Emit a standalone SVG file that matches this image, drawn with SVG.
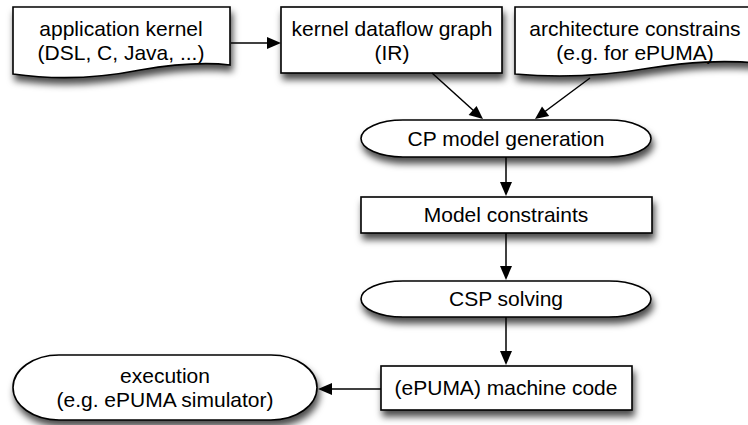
<svg xmlns="http://www.w3.org/2000/svg" width="748" height="425" viewBox="0 0 748 425">
<defs>
<filter id="sh" x="-20%" y="-30%" width="140%" height="180%">
<feDropShadow dx="2" dy="6" stdDeviation="3.5" flood-color="#000" flood-opacity="0.7"/>
</filter>
</defs>
<style>
.n{fill:#fff;stroke:#000;stroke-width:1.6;filter:url(#sh)}
.t{font-family:"Liberation Sans",Arial,Helvetica,sans-serif;font-size:21px;fill:#000;text-anchor:middle}
.c{fill:none;stroke:#000;stroke-width:1.5}
.h{fill:#000;stroke:none}
</style>
<g id="app-kernel">
<path class="n" d="M13,7 H230 V65 C205,62 175,64 140,70 C100,78 55,80 13,74 Z"/>
<text class="t" x="121" y="36">application kernel</text>
<text class="t" x="121" y="60">(DSL, C, Java, ...)</text>
</g>
<g id="dataflow-graph">
<rect class="n" x="281" y="7" width="221" height="66"/>
<text class="t" x="392" y="36">kernel dataflow graph</text>
<text class="t" x="392" y="60">(IR)</text>
</g>
<g id="arch-constraints">
<path class="n" d="M515,7 H758 V63 C720,60 690,62 650,68 C610,75 560,78 515,74 Z"/>
<text class="t" x="635" y="36">architecture constrains</text>
<text class="t" x="635" y="60">(e.g. for ePUMA)</text>
</g>
<g id="cp-model">
<path class="n" d="M403,120 H609 A42,18.5 0 0 1 609,157 H403 A42,18.5 0 0 1 403,120 Z"/>
<text class="t" x="506" y="146">CP model generation</text>
</g>
<g id="model-constraints">
<rect class="n" x="361" y="197" width="291" height="36"/>
<text class="t" x="506" y="222">Model constraints</text>
</g>
<g id="csp-solving">
<path class="n" d="M403,281 H609 A42,18 0 0 1 609,317 H403 A42,18 0 0 1 403,281 Z"/>
<text class="t" x="506" y="306">CSP solving</text>
</g>
<g id="machine-code">
<rect class="n" x="381" y="366" width="251" height="44"/>
<text class="t" x="506" y="395">(ePUMA) machine code</text>
</g>
<g id="execution">
<path class="n" d="M59,355 H271 A46,32.5 0 0 1 271,420 H59 A46,32.5 0 0 1 59,355 Z"/>
<text class="t" x="165" y="383">execution</text>
<text class="t" x="165" y="407">(e.g. ePUMA simulator)</text>
</g>
<g id="connectors">
<line class="c" x1="231" y1="43" x2="269" y2="43"/>
<polygon class="h" points="281,43 267,37 267,49"/>
<line class="c" x1="432" y1="73" x2="474" y2="111"/>
<polygon class="h" points="483,119 468.6,114.9 476.6,106"/>
<line class="c" x1="590" y1="78" x2="545" y2="111.5"/>
<polygon class="h" points="535,119 542,106.4 549.2,116"/>
<line class="c" x1="506" y1="157" x2="506" y2="184"/>
<polygon class="h" points="506,196 500,182 512,182"/>
<line class="c" x1="506" y1="233" x2="506" y2="268"/>
<polygon class="h" points="506,280 500,266 512,266"/>
<line class="c" x1="506" y1="317" x2="506" y2="353"/>
<polygon class="h" points="506,365 500,351 512,351"/>
<line class="c" x1="381" y1="389" x2="330" y2="389"/>
<polygon class="h" points="318,389 332,383 332,395"/>
</g>
</svg>
